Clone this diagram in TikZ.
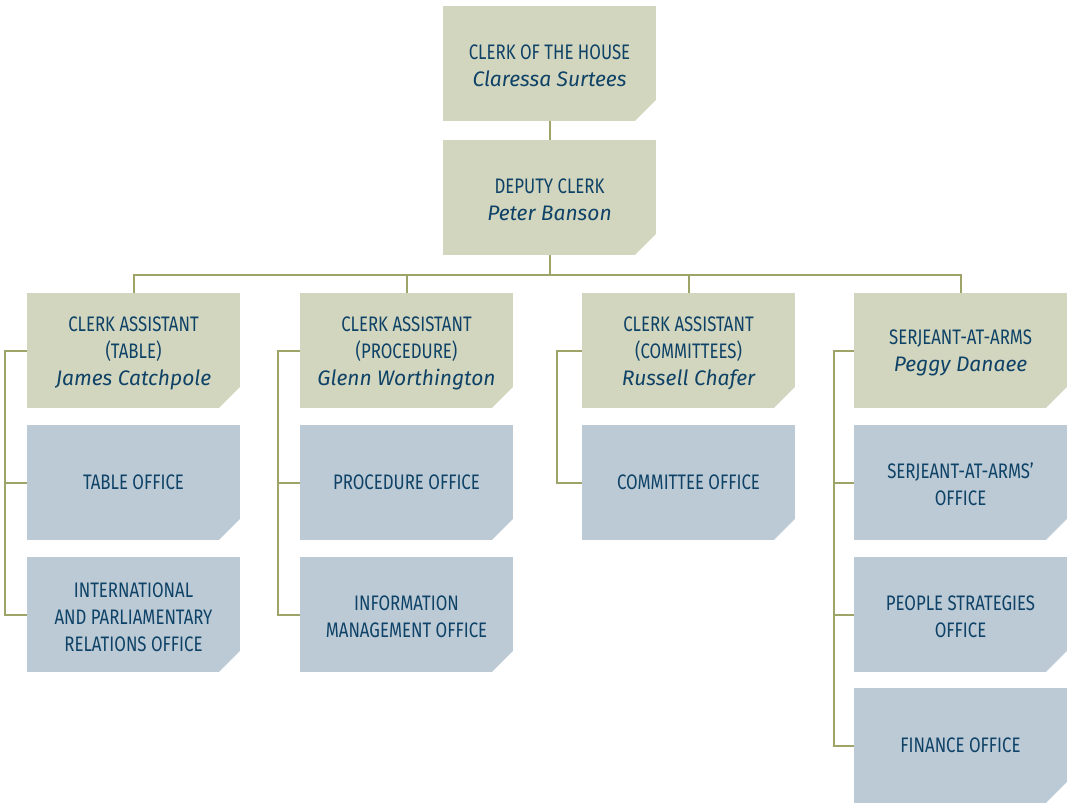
\documentclass[tikz,border=0pt]{standalone}
\usepackage{fontspec}
\usepackage{tikz}
\newfontfamily\capsfont[FakeStretch=0.8]{Fira Sans}
\newfontfamily\namefont{Fira Sans}
\newcommand{\who}[1]{{\namefont\itshape #1}}
\newcommand{\lift}{\rule{0pt}{20pt}}
\definecolor{tanbox}{RGB}{211,214,191}
\definecolor{bluebox}{RGB}{188,202,214}
\definecolor{olive}{RGB}{158,164,104}
\definecolor{navy}{RGB}{14,66,102}
\tikzset{
    unit/.style={minimum width=213pt,minimum height=115pt,inner sep=0pt,align=center,
        text=navy,font=\capsfont\fontsize{21}{27}\selectfont,
        path picture={\fill[white](path picture bounding box.south east)++(-21pt,0)--++(21pt,0)--++(0,21pt)--cycle;}},
    head/.style={unit,fill=tanbox},
    office/.style={unit,fill=bluebox},
    link/.style={draw=olive,line width=2pt}
}
\begin{document}
\begin{tikzpicture}[x=1pt,y=-1pt]
    \useasboundingbox(0,0)rectangle(1068,804);
    \coordinate(bus)at(0,275);

    \node[head](clerk)at(549.5,63.5){\lift CLERK OF THE HOUSE\\\who{Claressa Surtees}};
    \node[head](deputy)at(549.5,197.5){\lift DEPUTY CLERK\\\who{Peter Banson}};

    \node[head](table)at(133.5,350.5){\lift CLERK ASSISTANT\\(TABLE)\\\who{James Catchpole}};
    \node[office](tableoff)at(133.5,482.5){TABLE OFFICE};
    \node[office](intl)at(133.5,614.5){\lift INTERNATIONAL\\AND PARLIAMENTARY\\RELATIONS OFFICE};

    \node[head](proc)at(406.5,350.5){\lift CLERK ASSISTANT\\(PROCEDURE)\\\who{Glenn Worthington}};
    \node[office](procoff)at(406.5,482.5){PROCEDURE OFFICE};
    \node[office](info)at(406.5,614.5){\lift INFORMATION\\MANAGEMENT OFFICE};

    \node[head](comm)at(688.5,350.5){\lift CLERK ASSISTANT\\(COMMITTEES)\\\who{Russell Chafer}};
    \node[office](commoff)at(688.5,482.5){COMMITTEE OFFICE};

    \node[head](serj)at(960.5,350.5){\lift SERJEANT-AT-ARMS\\\who{Peggy Danaee}};
    \node[office](serjoff)at(960.5,482.5){\lift SERJEANT-AT-ARMS’\\OFFICE};
    \node[office](people)at(960.5,614.5){\lift PEOPLE STRATEGIES\\OFFICE};
    \node[office](finance)at(960.5,745.5){FINANCE OFFICE};

    \draw[link](clerk.south)--(deputy.north);
    \draw[link](deputy.south)--(deputy.south|-bus);
    \draw[link](table.north)|-(serj.north|-bus)--(serj.north);
    \draw[link](proc.north)--(proc.north|-bus);
    \draw[link](comm.north)--(comm.north|-bus);

    \draw[link](table.west)--++(-22,0)|-(intl.west);
    \draw[link](tableoff.west)--++(-22,0);
    \draw[link](proc.west)--++(-22,0)|-(info.west);
    \draw[link](procoff.west)--++(-22,0);
    \draw[link](comm.west)--++(-25,0)|-(commoff.west);
    \draw[link](serj.west)--++(-20,0)|-(finance.west);
    \draw[link](serjoff.west)--++(-20,0);
    \draw[link](people.west)--++(-20,0);
\end{tikzpicture}
\end{document}
